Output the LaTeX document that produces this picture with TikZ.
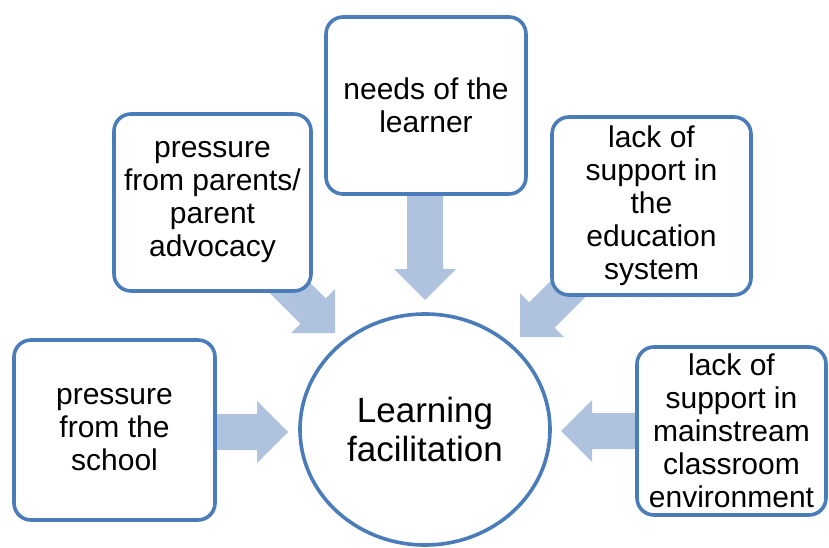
\documentclass[tikz,border=0pt]{standalone}
\usepackage{fontspec}
\setmainfont{Liberation Sans}
\usetikzlibrary{shapes.geometric}
\definecolor{boxline}{RGB}{74,124,185}
\definecolor{arrowfill}{RGB}{176,195,222}
\tikzset{
  factorbox/.style={draw=boxline, line width=3.6pt, fill=white, rounded corners=17pt,
    align=center, inner sep=0pt, font=\fontsize{30}{33}\selectfont},
  centreell/.style={draw=boxline, line width=3.6pt, fill=white, ellipse, inner sep=0pt,
    align=center, font=\fontsize{35}{39}\selectfont},
  fatarrow/.style={fill=arrowfill, draw=none}
}
\newcommand\blockarrow[3]{% tip coordinate, angle, length
  \begin{scope}[shift={(#1)}, rotate=#2]
    \fill[fatarrow] (0,0) -- (-31,31) -- (-31,18) -- (-#3,18) -- (-#3,-18) -- (-31,-18) -- (-31,-31) -- cycle;
  \end{scope}}
\begin{document}
\begin{tikzpicture}[x=1pt, y=-1pt]
\useasboundingbox (0,0) rectangle (829,548);
% arrow tips
\coordinate (tipL) at (288,432);
\coordinate (tipT) at (425,300);
\coordinate (tipUL) at (335,333);
\coordinate (tipUR) at (520,337);
\coordinate (tipR) at (561,431);
\blockarrow{tipL}{0}{80}
\blockarrow{tipT}{-90}{110}
\blockarrow{tipUL}{-45}{85}
\blockarrow{tipUR}{-135}{85}
\blockarrow{tipR}{180}{80}
% boxes
\node[factorbox, minimum width=201pt, minimum height=180pt] (school) at (114.5,430) {pressure\\from the\\school};
\node[factorbox, minimum width=197pt, minimum height=177pt] (parents) at (212.5,202.5) {pressure\\from parents/\\parent\\advocacy};
\node[factorbox, minimum width=200pt, minimum height=177pt] (needs) at (426,105.5) {needs of the\\learner};
\node[factorbox, minimum width=199pt, minimum height=178pt] (edu) at (651.5,206) {lack of\\support in\\the\\education\\system};
\node[factorbox, minimum width=189pt, minimum height=168pt] (class) at (731.5,431) {lack of\\support in\\mainstream\\classroom\\environment};
\node[centreell, minimum width=250pt, minimum height=231pt] (learn) at (425,429.5) {Learning\\facilitation};
\end{tikzpicture}
\end{document}
